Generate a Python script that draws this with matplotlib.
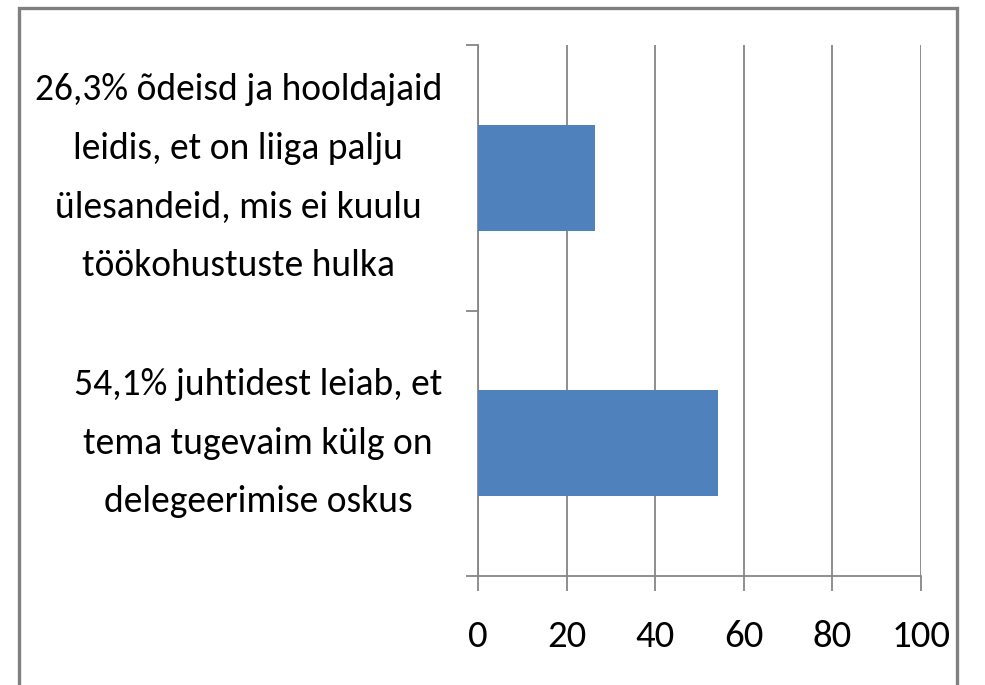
import matplotlib
matplotlib.use("Agg")
import matplotlib.pyplot as plt
from matplotlib.patches import Rectangle
from matplotlib.transforms import ScaledTranslation

categories = [
    "54,1% juhtidest leiab, et\ntema tugevaim külg on\ndelegeerimise oskus",
    "26,3% õdeisd ja hooldajaid\nleidis, et on liiga palju\nülesandeid, mis ei kuulu\ntöökohustuste hulka",
]
values = [54.1, 26.3]
x_ticks = [0, 20, 40, 60, 80, 100]

plt.rcParams['font.family'] = ['Carlito', 'DejaVu Sans']

W, H = 985, 685
fig = plt.figure(figsize=(W/100, H/100), dpi=100)
ax = fig.add_axes([478/W, 1-576/H, (921-478)/W, (576-45)/H])

grey = "#868686"
pos = list(range(len(values)))
ax.barh(pos, values, height=0.4, color="#4F81BD", zorder=3)
ax.set_xlim(0, 100)
ax.set_ylim(-0.5, len(values)-0.5)

ax.set_xticks(x_ticks)
ax.set_xticklabels([str(t) for t in x_ticks], fontsize=28)
ax.tick_params(axis='x', length=11, width=1.3, color=grey, pad=21, direction='out')
ax.xaxis.grid(True, color=grey, linewidth=1.3, zorder=0)

ax.set_yticks([p - 0.5 for p in pos] + [pos[-1] + 0.5])
ax.set_yticklabels([])
ax.tick_params(axis='y', which='major', length=9, width=1.3, color=grey)

label_tr = ax.get_yaxis_transform() + ScaledTranslation(-0.36, 0.0, fig.dpi_scale_trans)
for p, lab in zip(pos, categories):
    ax.text(0, p, lab, transform=label_tr, fontsize=27, ha='right', va='center',
            multialignment='center', linespacing=1.95)

for s in ['top', 'right']:
    ax.spines[s].set_visible(False)
for s in ['left', 'bottom']:
    ax.spines[s].set_color(grey)
    ax.spines[s].set_linewidth(1.3)

fig.patches.append(Rectangle((19/W, -0.02), (957-19)/W, 1-8/H+0.02, transform=fig.transFigure,
                             fill=False, edgecolor="#808080", linewidth=2.4))

fig.savefig("out.png", dpi=100)
